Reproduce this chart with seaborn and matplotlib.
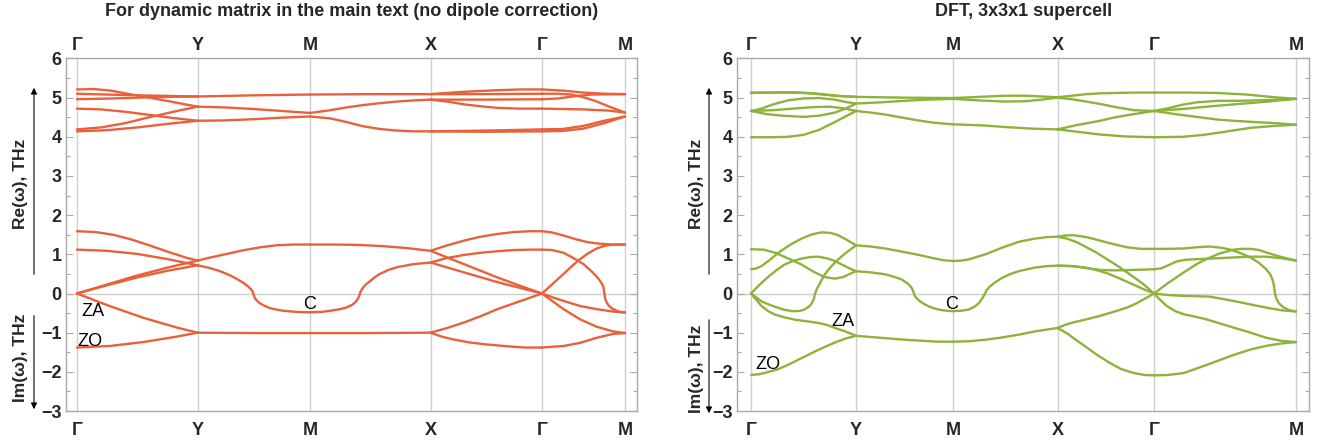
import numpy as np
import pandas as pd
import matplotlib
matplotlib.use("Agg")
import matplotlib.pyplot as plt
from matplotlib.ticker import FixedLocator, FixedFormatter, MultipleLocator
import seaborn as sns

sns.set_style("white")
plt.rcParams['font.family'] = ['Liberation Sans Narrow', 'Liberation Sans', 'DejaVu Sans']

# ---------------- data ----------------
k_labels = ["Γ", "Y", "M", "X", "Γ", "M"]
left_kdist = [0, 120.5, 233, 353.5, 465, 548]
right_kdist = [0, 105, 202, 306.5, 403, 545]
y_ticks = [-3, -2, -1, 0, 1, 2, 3, 4, 5, 6]
y_tick_labels = ["−3", "−2", "−1", "0", "1", "2", "3", "4", "5", "6"]
left_title = "For dynamic matrix in the main text (no dipole correction)"
right_title = "DFT, 3x3x1 supercell"

# each curve: list of (fraction along segment, frequency in THz); negative = imaginary
left_G_Y = [
    [(0, 5.21), (0.14, 5.22), (0.28, 5.18), (0.42, 5.10), (0.55, 5.03), (0.69, 4.95), (0.83, 4.87), (1, 4.77)],
    [(0, 5.10), (0.5, 5.06), (1, 5.03)],
    [(0, 4.96), (0.3, 4.98), (0.6, 5.01), (1, 5.03)],
    [(0, 4.72), (0.2, 4.70), (0.4, 4.64), (0.6, 4.56), (0.8, 4.48), (1, 4.41)],
    [(0, 4.19), (0.2, 4.24), (0.4, 4.35), (0.6, 4.50), (0.8, 4.64), (1, 4.77)],
    [(0, 4.14), (0.25, 4.17), (0.5, 4.24), (0.75, 4.33), (1, 4.41)],
    [(0, 1.59), (0.15, 1.57), (0.3, 1.50), (0.45, 1.38), (0.6, 1.23), (0.75, 1.07), (0.9, 0.92), (1, 0.84)],
    [(0, 1.12), (0.25, 1.09), (0.5, 1.01), (0.75, 0.88), (1, 0.72)],
    [(0, 0), (0.25, 0.23), (0.5, 0.46), (0.75, 0.66), (1, 0.84)],
    [(0, 0), (0.25, 0.21), (0.5, 0.41), (0.75, 0.58), (1, 0.72)],
    [(0, 0), (0.27, -0.32), (0.55, -0.62), (0.83, -0.87), (1, -1.0)],
    [(0, -1.38), (0.27, -1.34), (0.55, -1.24), (0.83, -1.10), (1, -1.0)],
]
left_Y_M = [
    [(0, 5.03), (0.5, 5.06), (1, 5.08)],
    [(0, 4.77), (0.25, 4.75), (0.5, 4.71), (0.75, 4.66), (1, 4.61)],
    [(0, 4.41), (0.25, 4.42), (0.5, 4.45), (0.75, 4.49), (1, 4.52)],
    [(0, 0.84), (0.13, 0.93), (0.26, 1.01), (0.4, 1.10), (0.56, 1.18), (0.7, 1.23), (0.85, 1.25), (1, 1.25)],
    [(0, 0.72), (0.11, 0.65), (0.2, 0.57), (0.26, 0.50), (0.32, 0.42), (0.38, 0.32), (0.42, 0.25), (0.45, 0.18),
     (0.475, 0.11), (0.49, 0.05), (0.50, -0.04), (0.51, -0.12), (0.53, -0.19), (0.56, -0.26), (0.6, -0.32),
     (0.64, -0.37), (0.7, -0.41), (0.76, -0.44), (0.88, -0.47), (1, -0.48)],
    [(0, -1.0), (0.5, -1.01), (1, -1.01)],
]
left_M_X = [
    [(0, 5.08), (0.5, 5.09), (1, 5.09)],
    [(0, 4.61), (0.17, 4.68), (0.3, 4.75), (0.44, 4.81), (0.58, 4.86), (0.72, 4.90), (0.86, 4.93), (1, 4.95)],
    [(0, 4.52), (0.17, 4.47), (0.3, 4.38), (0.44, 4.27), (0.58, 4.20), (0.72, 4.16), (0.86, 4.14), (1, 4.14)],
    [(0, 1.25), (0.2, 1.25), (0.4, 1.24), (0.6, 1.21), (0.8, 1.16), (1, 1.09)],
    [(0, -0.48), (0.1, -0.47), (0.17, -0.44), (0.25, -0.40), (0.3, -0.36), (0.35, -0.29), (0.38, -0.21),
     (0.4, -0.12), (0.41, -0.04), (0.42, 0.05), (0.435, 0.13), (0.46, 0.22), (0.50, 0.32), (0.54, 0.42),
     (0.58, 0.50), (0.65, 0.60), (0.72, 0.67), (0.86, 0.75), (1, 0.79)],
    [(0, -1.01), (0.5, -1.01), (1, -1.0)],
]
left_X_G = [
    [(0, 5.09), (0.3, 5.15), (0.6, 5.19), (0.8, 5.21), (1, 5.21)],
    [(0, 5.09), (0.5, 5.09), (1, 5.10)],
    [(0, 4.95), (0.5, 4.95), (1, 4.96)],
    [(0, 4.95), (0.15, 4.90), (0.3, 4.83), (0.45, 4.78), (0.6, 4.74), (0.8, 4.72), (1, 4.72)],
    [(0, 4.14), (0.5, 4.16), (1, 4.19)],
    [(0, 4.14), (0.5, 4.13), (1, 4.14)],
    [(0, 1.09), (0.15, 1.23), (0.3, 1.35), (0.45, 1.45), (0.6, 1.52), (0.75, 1.57), (0.9, 1.59), (1, 1.59)],
    [(0, 1.09), (0.3, 0.75), (0.6, 0.41), (0.8, 0.20), (1, 0)],
    [(0, 0.79), (0.14, 0.90), (0.29, 0.98), (0.45, 1.04), (0.6, 1.08), (0.75, 1.11), (0.9, 1.12), (1, 1.12)],
    [(0, 0.79), (0.3, 0.54), (0.6, 0.29), (1, 0)],
    [(0, -1.0), (0.15, -0.88), (0.3, -0.74), (0.45, -0.58), (0.6, -0.40), (0.8, -0.20), (1, 0)],
    [(0, -1.0), (0.1, -1.10), (0.2, -1.17), (0.35, -1.25), (0.5, -1.30), (0.7, -1.35), (0.85, -1.38), (1, -1.38)],
]
left_G_M = [
    [(0, 5.21), (0.25, 5.18), (0.5, 5.13), (0.75, 5.10), (1, 5.09)],
    [(0, 5.10), (0.2, 5.10), (0.35, 5.08), (0.5, 5.01), (0.65, 4.91), (0.8, 4.78), (1, 4.62)],
    [(0, 4.96), (0.2, 4.98), (0.4, 5.04), (0.6, 5.08), (1, 5.09)],
    [(0, 4.72), (0.5, 4.70), (0.8, 4.67), (1, 4.62)],
    [(0, 4.19), (0.25, 4.20), (0.5, 4.28), (0.75, 4.41), (1, 4.52)],
    [(0, 4.14), (0.25, 4.15), (0.5, 4.21), (0.75, 4.35), (1, 4.52)],
    [(0, 1.59), (0.12, 1.56), (0.26, 1.48), (0.4, 1.39), (0.55, 1.31), (0.7, 1.27), (0.85, 1.25), (1, 1.25)],
    [(0, 1.12), (0.12, 1.11), (0.26, 1.04), (0.4, 0.88), (0.5, 0.75), (0.6, 0.56), (0.66, 0.43), (0.7, 0.32),
     (0.725, 0.24), (0.74, 0.16), (0.75, 0.03), (0.76, -0.13), (0.78, -0.23), (0.80, -0.30), (0.83, -0.36),
     (0.86, -0.40), (0.9, -0.44), (0.94, -0.47), (1, -0.49)],
    [(0, 0), (0.13, 0.25), (0.26, 0.50), (0.36, 0.70), (0.46, 0.88), (0.56, 1.03), (0.66, 1.15), (0.76, 1.22),
     (0.86, 1.25), (1, 1.25)],
    [(0, 0), (0.13, -0.10), (0.26, -0.19), (0.46, -0.32), (0.66, -0.40), (0.85, -0.46), (1, -0.48)],
    [(0, 0), (0.13, -0.20), (0.26, -0.40), (0.46, -0.66), (0.66, -0.85), (0.86, -0.97), (1, -1.01)],
    [(0, -1.38), (0.26, -1.34), (0.46, -1.26), (0.66, -1.13), (0.86, -1.03), (1, -1.01)],
]

right_G_Y = [
    [(0, 5.13), (0.3, 5.13), (0.5, 5.12), (0.7, 5.08), (0.85, 5.04), (1, 5.02)],
    [(0, 5.12), (0.4, 5.14), (0.6, 5.11), (0.8, 5.05), (1, 5.02)],
    [(0, 4.66), (0.1, 4.72), (0.2, 4.82), (0.35, 4.93), (0.5, 4.98), (0.65, 4.99), (0.8, 4.95), (0.9, 4.89), (1, 4.85)],
    [(0, 4.66), (0.2, 4.68), (0.4, 4.72), (0.6, 4.76), (0.75, 4.77), (0.88, 4.73), (1, 4.66)],
    [(0, 4.66), (0.15, 4.58), (0.3, 4.54), (0.5, 4.51), (0.65, 4.54), (0.8, 4.62), (0.9, 4.72), (1, 4.85)],
    [(0, 3.99), (0.2, 3.99), (0.35, 4.00), (0.5, 4.05), (0.65, 4.18), (0.8, 4.38), (0.9, 4.52), (1, 4.66)],
    [(0, 1.13), (0.12, 1.12), (0.23, 1.04), (0.35, 0.90), (0.48, 0.74), (0.6, 0.55), (0.7, 0.42), (0.8, 0.38),
     (0.88, 0.42), (0.94, 0.50), (1, 0.57)],
    [(0, 0.62), (0.05, 0.64), (0.1, 0.70), (0.18, 0.86), (0.26, 1.04), (0.37, 1.24), (0.48, 1.40), (0.58, 1.51),
     (0.67, 1.56), (0.75, 1.55), (0.82, 1.50), (0.9, 1.39), (1, 1.23)],
    [(0, 0), (0.08, 0.22), (0.17, 0.44), (0.25, 0.61), (0.32, 0.74), (0.4, 0.83), (0.48, 0.89), (0.56, 0.93),
     (0.64, 0.94), (0.72, 0.90), (0.8, 0.83), (0.88, 0.72), (0.94, 0.64), (1, 0.57)],
    [(0, 0), (0.05, -0.10), (0.1, -0.20), (0.17, -0.28), (0.23, -0.34), (0.31, -0.41), (0.39, -0.45), (0.45, -0.45),
     (0.5, -0.42), (0.55, -0.34), (0.58, -0.25), (0.6, -0.13), (0.61, 0.0), (0.63, 0.13), (0.66, 0.28), (0.7, 0.48),
     (0.76, 0.68), (0.83, 0.87), (0.9, 1.03), (1, 1.23)],
    [(0, 0), (0.05, -0.16), (0.1, -0.32), (0.17, -0.46), (0.23, -0.54), (0.32, -0.61), (0.42, -0.67), (0.53, -0.71),
     (0.64, -0.75), (0.72, -0.80), (0.8, -0.88), (0.9, -0.97), (1, -1.08)],
    [(0, -2.08), (0.08, -2.06), (0.17, -2.00), (0.25, -1.94), (0.32, -1.86), (0.4, -1.76), (0.48, -1.65),
     (0.64, -1.44), (0.8, -1.25), (0.9, -1.15), (1, -1.08)],
]
right_Y_M = [
    [(0, 5.02), (0.5, 5.00), (1, 4.99)],
    [(0, 4.85), (0.25, 4.88), (0.5, 4.92), (0.75, 4.95), (1, 4.97)],
    [(0, 4.66), (0.15, 4.62), (0.3, 4.57), (0.5, 4.48), (0.64, 4.42), (0.8, 4.36), (1, 4.32)],
    [(0, 1.23), (0.15, 1.20), (0.3, 1.15), (0.47, 1.07), (0.64, 0.99), (0.8, 0.90), (0.9, 0.85), (1, 0.83)],
    [(0, 0.57), (0.15, 0.54), (0.3, 0.49), (0.4, 0.42), (0.47, 0.36), (0.53, 0.26), (0.57, 0.16), (0.59, 0.06),
     (0.6, -0.03), (0.62, -0.11), (0.66, -0.20), (0.71, -0.28), (0.78, -0.36), (0.85, -0.41), (0.93, -0.44),
     (1, -0.45)],
    [(0, -1.08), (0.15, -1.11), (0.3, -1.14), (0.5, -1.18), (0.7, -1.21), (0.85, -1.23), (1, -1.23)],
]
right_M_X = [
    [(0, 4.99), (0.25, 5.02), (0.5, 5.05), (0.7, 5.05), (0.85, 5.03), (1, 5.01)],
    [(0, 4.97), (0.25, 4.93), (0.5, 4.90), (0.7, 4.91), (0.85, 4.95), (1, 5.00)],
    [(0, 4.32), (0.3, 4.29), (0.5, 4.25), (0.75, 4.21), (1, 4.19)],
    [(0, 0.83), (0.08, 0.84), (0.15, 0.87), (0.31, 1.00), (0.47, 1.17), (0.63, 1.32), (0.78, 1.40), (0.9, 1.44),
     (1, 1.45)],
    [(0, -0.45), (0.08, -0.44), (0.15, -0.41), (0.21, -0.33), (0.25, -0.24), (0.28, -0.12), (0.3, -0.03),
     (0.32, 0.08), (0.35, 0.17), (0.4, 0.28), (0.47, 0.40), (0.55, 0.50), (0.63, 0.57), (0.78, 0.66), (0.9, 0.70),
     (1, 0.71)],
    [(0, -1.23), (0.15, -1.22), (0.31, -1.18), (0.45, -1.13), (0.63, -1.05), (0.78, -0.97), (0.9, -0.92), (1, -0.88)],
]
right_X_G = [
    [(0, 5.01), (0.15, 5.05), (0.3, 5.09), (0.44, 5.11), (0.6, 5.12), (0.8, 5.13), (1, 5.13)],
    [(0, 5.00), (0.15, 4.96), (0.3, 4.90), (0.44, 4.84), (0.6, 4.76), (0.79, 4.68), (1, 4.66)],
    [(0, 4.19), (0.2, 4.30), (0.44, 4.41), (0.6, 4.50), (0.79, 4.58), (1, 4.66)],
    [(0, 4.19), (0.2, 4.13), (0.44, 4.06), (0.7, 4.01), (1, 3.99)],
    [(0, 1.45), (0.08, 1.48), (0.16, 1.49), (0.3, 1.44), (0.44, 1.35), (0.58, 1.26), (0.72, 1.18), (0.86, 1.14),
     (1, 1.14)],
    [(0, 1.45), (0.1, 1.40), (0.2, 1.31), (0.27, 1.22), (0.4, 1.05), (0.51, 0.88), (0.62, 0.71), (0.72, 0.54),
     (0.8, 0.40), (0.89, 0.24), (1, 0)],
    [(0, 0.71), (0.15, 0.70), (0.3, 0.65), (0.45, 0.60), (0.6, 0.59), (0.75, 0.60), (0.9, 0.61), (1, 0.62)],
    [(0, 0.71), (0.15, 0.70), (0.27, 0.67), (0.4, 0.60), (0.51, 0.52), (0.62, 0.41), (0.72, 0.30), (0.82, 0.19),
     (0.91, 0.09), (1, 0)],
    [(0, -0.88), (0.08, -0.80), (0.16, -0.74), (0.3, -0.66), (0.44, -0.57), (0.58, -0.47), (0.72, -0.36),
     (0.82, -0.25), (0.9, -0.14), (1, 0)],
    [(0, -0.88), (0.1, -1.02), (0.2, -1.20), (0.27, -1.32), (0.4, -1.55), (0.54, -1.77), (0.66, -1.93),
     (0.79, -2.03), (0.9, -2.08), (1, -2.09)],
]
right_G_M = [
    [(0, 5.13), (0.25, 5.13), (0.45, 5.12), (0.65, 5.08), (0.85, 5.01), (1, 4.97)],
    [(0, 4.66), (0.1, 4.73), (0.2, 4.82), (0.3, 4.88), (0.45, 4.92), (0.6, 4.92), (0.8, 4.94), (1, 4.97)],
    [(0, 4.66), (0.2, 4.71), (0.4, 4.78), (0.6, 4.84), (0.8, 4.90), (1, 4.97)],
    [(0, 4.66), (0.15, 4.58), (0.32, 4.50), (0.45, 4.44), (0.56, 4.41), (0.7, 4.38), (0.85, 4.35), (1, 4.31)],
    [(0, 3.99), (0.2, 4.00), (0.35, 4.05), (0.5, 4.13), (0.68, 4.23), (0.85, 4.28), (1, 4.31)],
    [(0, 1.14), (0.1, 1.14), (0.21, 1.15), (0.3, 1.18), (0.39, 1.20), (0.47, 1.17), (0.54, 1.12), (0.61, 1.03),
     (0.68, 0.92), (0.74, 0.78), (0.79, 0.62), (0.82, 0.48), (0.835, 0.35), (0.845, 0.20), (0.85, 0.03),
     (0.86, -0.12), (0.88, -0.25), (0.91, -0.35), (0.95, -0.42), (1, -0.46)],
    [(0, 0), (0.1, 0.27), (0.21, 0.54), (0.3, 0.75), (0.37, 0.88), (0.46, 1.02), (0.56, 1.12), (0.62, 1.14),
     (0.68, 1.14), (0.74, 1.11), (0.79, 1.05), (0.85, 0.98), (0.91, 0.92), (1, 0.84)],
    [(0, 0.62), (0.05, 0.64), (0.1, 0.72), (0.16, 0.82), (0.22, 0.86), (0.32, 0.88), (0.45, 0.90), (0.56, 0.92),
     (0.68, 0.94), (0.79, 0.94), (0.9, 0.90), (1, 0.84)],
    [(0, 0), (0.1, -0.04), (0.21, -0.06), (0.3, -0.07), (0.39, -0.08), (0.47, -0.13), (0.56, -0.19), (0.68, -0.28),
     (0.79, -0.36), (0.9, -0.43), (1, -0.46)],
    [(0, 0), (0.04, -0.15), (0.09, -0.32), (0.15, -0.45), (0.21, -0.53), (0.3, -0.60), (0.37, -0.66), (0.46, -0.76),
     (0.56, -0.87), (0.68, -1.00), (0.79, -1.13), (0.9, -1.21), (1, -1.24)],
    [(0, -2.09), (0.1, -2.08), (0.21, -2.03), (0.32, -1.89), (0.44, -1.73), (0.56, -1.57), (0.68, -1.43),
     (0.8, -1.33), (0.91, -1.27), (1, -1.24)],
]

left_segments = [left_G_Y, left_Y_M, left_M_X, left_X_G, left_G_M]
right_segments = [right_G_Y, right_Y_M, right_M_X, right_X_G, right_G_M]

# mode labels: (text, segment index, fraction, frequency)
left_notes = [("C", 1, 1.0, -0.28), ("ZA", 0, 0.13, -0.46), ("ZO", 0, 0.11, -1.22)]
right_notes = [("C", 1, 0.99, -0.28), ("ZA", 0, 0.88, -0.72), ("ZO", 0, 0.16, -1.82)]

LEFT_COLOR = "#E8613A"
RIGHT_COLOR = "#8DB33A"


def to_frame(segments, kd):
    rows = []
    cid = 0
    for s, curves in enumerate(segments):
        k0, k1 = kd[s], kd[s + 1]
        for curve in curves:
            for t, w in curve:
                rows.append((cid, k0 + t * (k1 - k0), w))
            cid += 1
    return pd.DataFrame(rows, columns=["curve", "k", "w"])


W, H = 1321, 444
fig = plt.figure(figsize=(W / 100, H / 100), dpi=100)

FRAME = "#a9a9a9"
GRID = "#cfcfcf"


def draw(ax, segments, kd, color, notes, xlim):
    df = to_frame(segments, kd)
    for x in kd:
        ax.axvline(x, color=GRID, lw=1.0, zorder=0)
    ax.axhline(0, color=GRID, lw=1.0, zorder=0)
    sns.lineplot(data=df, x="k", y="w", units="curve", estimator=None, sort=False,
                 color=color, lw=1.7, ax=ax, legend=False, zorder=3)
    ax.set_xlim(*xlim)
    ax.set_ylim(-3, 6)
    ax.set_xlabel("")
    ax.set_ylabel("")
    for sp in ax.spines.values():
        sp.set_color(FRAME)
        sp.set_linewidth(1.0)
        sp.set_visible(True)
    # bottom path labels
    ax.xaxis.set_major_locator(FixedLocator(kd))
    ax.xaxis.set_major_formatter(FixedFormatter(k_labels))
    ax.tick_params(axis="x", which="both", top=False, bottom=True, labeltop=False, labelbottom=True,
                   length=0, pad=8, labelsize=13)
    # top path labels
    sec = ax.secondary_xaxis("top")
    sec.xaxis.set_major_locator(FixedLocator(kd))
    sec.xaxis.set_major_formatter(FixedFormatter(k_labels))
    sec.tick_params(axis="x", length=0, pad=3.5, labelsize=13)
    sec.spines["top"].set_visible(False)
    for lab in sec.get_xticklabels():
        lab.set_fontweight("bold")
    ax.yaxis.set_major_locator(FixedLocator(y_ticks))
    ax.yaxis.set_major_formatter(FixedFormatter(y_tick_labels))
    ax.yaxis.set_minor_locator(MultipleLocator(0.5))
    ax.tick_params(axis="y", which="major", direction="in", left=True, right=True, length=5,
                   width=0.8, color=FRAME, labelsize=13, pad=3)
    ax.tick_params(axis="y", which="minor", direction="in", left=True, right=True, length=3,
                   width=0.8, color=FRAME)
    for lab in ax.get_xticklabels() + ax.get_yticklabels():
        lab.set_fontweight("bold")
    for txt, s, t, w in notes:
        k = kd[s] + t * (kd[s + 1] - kd[s])
        ax.text(k, w, txt, ha="center", va="center", fontsize=13, color="black", zorder=5)


ax1 = fig.add_axes([66 / W, 1 - 411 / H, (637 - 66) / W, (411 - 58.5) / H])
ax2 = fig.add_axes([737 / W, 1 - 411 / H, (1309 - 737) / W, (411 - 58.5) / H])
draw(ax1, left_segments, left_kdist, LEFT_COLOR, left_notes, (-11, 560))
draw(ax2, right_segments, right_kdist, RIGHT_COLOR, right_notes, (-14, 558))

fig.text(352 / W, 1 - 12 / H, left_title, ha="center", va="center", fontsize=13, fontweight="bold")
fig.text(1024 / W, 1 - 12 / H, right_title, ha="center", va="center", fontsize=13, fontweight="bold")


def side_labels(x_text, x_arrow, re_c, im_c, im_arrow):
    fig.text(x_text / W, 1 - re_c / H, "Re(ω), THz", rotation=90, ha="center", va="center",
             fontsize=12.5, fontweight="bold")
    fig.text(x_text / W, 1 - im_c / H, "Im(ω), THz", rotation=90, ha="center", va="center",
             fontsize=12.5, fontweight="bold")
    ax1.annotate("", xy=(x_arrow / W, 1 - 85 / H), xytext=(x_arrow / W, 1 - 277 / H),
                 xycoords="figure fraction", textcoords="figure fraction", annotation_clip=False,
                 arrowprops=dict(arrowstyle="-|>", color="black", lw=0.8, mutation_scale=9))
    ax1.annotate("", xy=(x_arrow / W, 1 - im_arrow[1] / H), xytext=(x_arrow / W, 1 - im_arrow[0] / H),
                 xycoords="figure fraction", textcoords="figure fraction", annotation_clip=False,
                 arrowprops=dict(arrowstyle="-|>", color="black", lw=0.8, mutation_scale=9))


side_labels(21, 34, 184, 358, (313, 412))
side_labels(696, 709, 184, 369, (317, 416))

fig.savefig("out.png", dpi=100)
